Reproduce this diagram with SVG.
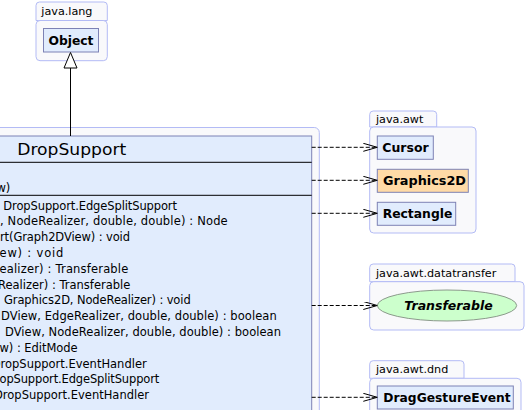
<svg xmlns="http://www.w3.org/2000/svg" width="527" height="410" viewBox="0 0 527 410">
<style>
.pkg{fill:#f9f9fb;stroke:#b3bbf5;stroke-width:1}
.cls{fill:#e1ecfd;stroke:#7d82b5;stroke-width:1}
.sep{stroke:#000;stroke-width:1}
.plbl{font-family:"DejaVu Sans",sans-serif;font-size:11.2px;fill:#000}
.bname{font-family:"DejaVu Sans",sans-serif;font-size:12.5px;font-weight:bold;fill:#000;text-anchor:middle}
.mem{font-family:"DejaVu Sans",sans-serif;font-size:11.5px;fill:#000;text-anchor:end}
.mems{font-family:"DejaVu Sans",sans-serif;font-size:11.5px;fill:#000;text-anchor:start}
.title{font-family:"DejaVu Sans",sans-serif;font-size:16.5px;fill:#000;text-anchor:middle}
.dep{fill:none;stroke:#000;stroke-width:1;stroke-dasharray:4,2}
</style>
<defs>
<marker id="open" markerUnits="userSpaceOnUse" markerWidth="16" markerHeight="10" refX="14" refY="4" orient="auto">
<path d="M0,0 L14,4 L0,8" fill="none" stroke="#000" stroke-width="1"/>
</marker>
</defs>

<g id="pkg-java-lang">
<path class="pkg" d="M36,20.5 V5.5 a3.5,3.5 0 0 1 3.5,-3.5 H103.8 a3.5,3.5 0 0 1 3.5,3.5 V20.5 Z"/>
<rect class="pkg" x="36" y="20.5" width="71.3" height="40.2" rx="4"/>
<text class="plbl" x="41.3" y="15">java.lang</text>
</g>
<g id="Object">
<rect class="cls" x="43.5" y="28.5" width="55" height="23.5"/>
<text class="bname" x="71" y="44.6" textLength="45" lengthAdjust="spacingAndGlyphs">Object</text>
</g>

<g id="pkg-main">
<rect class="pkg" x="-300" y="127.5" width="619.3" height="400" rx="5"/>
</g>
<g id="DropSupport">
<rect class="cls" x="-300" y="136" width="611.7" height="400"/>
<line class="sep" x1="-300" y1="162.3" x2="311.7" y2="162.3"/>
<line class="sep" x1="-300" y1="195.3" x2="311.7" y2="195.3"/>
<text class="title" x="71.7" y="154.5" textLength="109" lengthAdjust="spacingAndGlyphs">DropSupport</text>
<text class="mem" x="10.3" y="191.5">w)</text>
<text class="mems" x="3.3" y="209.5" textLength="173.7" lengthAdjust="spacing">DropSupport.EdgeSplitSupport</text>
<text class="mems" x="0" y="225.3" textLength="227.7" lengthAdjust="spacing">, NodeRealizer, double, double) : Node</text>
<text class="mems" x="0" y="241.1" textLength="130" lengthAdjust="spacing">rt(Graph2DView) : void</text>
<text class="mems" x="-0.5" y="256.9" textLength="63.8" lengthAdjust="spacing">ew) : void</text>
<text class="mems" x="-0.5" y="272.7" textLength="128.8" lengthAdjust="spacing">ealizer) : Transferable</text>
<text class="mem" x="130.3" y="288.5">Realizer) : Transferable</text>
<text class="mems" x="4" y="304.3" textLength="186.7" lengthAdjust="spacing">Graphics2D, NodeRealizer) : void</text>
<text class="mems" x="1" y="320.1" textLength="275.7" lengthAdjust="spacing">DView, EdgeRealizer, double, double) : boolean</text>
<text class="mems" x="5" y="335.9" textLength="276" lengthAdjust="spacing">DView, NodeRealizer, double, double) : boolean</text>
<text class="mems" x="-0.5" y="351.7" textLength="78.2" lengthAdjust="spacing">w) : EditMode</text>
<text class="mem" x="146.7" y="367.5">DropSupport.EventHandler</text>
<text class="mems" x="-0.5" y="383.3" textLength="159.8" lengthAdjust="spacing">opSupport.EdgeSplitSupport</text>
<text class="mem" x="149" y="399.1">DropSupport.EventHandler</text>
</g>

<g id="pkg-java-awt">
<path class="pkg" d="M369.7,127 V114.5 a3.5,3.5 0 0 1 3.5,-3.5 H433.2 a3.5,3.5 0 0 1 3.5,3.5 V127 Z"/>
<rect class="pkg" x="369.7" y="127" width="106.3" height="106" rx="4"/>
<text class="plbl" x="376" y="123.3">java.awt</text>
</g>
<g id="Cursor">
<rect class="cls" x="377.3" y="136" width="56" height="23.3"/>
<text class="bname" x="405.5" y="151.8" textLength="46.3" lengthAdjust="spacingAndGlyphs">Cursor</text>
</g>
<g id="Graphics2D">
<rect x="377.3" y="169.3" width="91" height="23" fill="#ffdaa6" stroke="#7d82b5" stroke-width="1"/>
<text class="bname" x="424.5" y="185" textLength="83" lengthAdjust="spacingAndGlyphs">Graphics2D</text>
</g>
<g id="Rectangle">
<rect class="cls" x="377.3" y="202.3" width="78.4" height="23"/>
<text class="bname" x="417.5" y="218.2" textLength="69.7" lengthAdjust="spacingAndGlyphs">Rectangle</text>
</g>

<g id="pkg-java-awt-datatransfer">
<path class="pkg" d="M369.7,281.7 V267.5 a3.5,3.5 0 0 1 3.5,-3.5 H511.5 a3.5,3.5 0 0 1 3.5,3.5 V281.7 Z"/>
<rect class="pkg" x="369.7" y="281.7" width="154.3" height="48.3" rx="4"/>
<text class="plbl" x="376" y="276.7">java.awt.datatransfer</text>
</g>
<g id="Transferable">
<ellipse cx="447" cy="305.5" rx="69.7" ry="15.5" fill="#ccffcc" stroke="#8c9a8c" stroke-width="1"/>
<text class="bname" x="448.5" y="310" font-style="italic" textLength="88.3" lengthAdjust="spacingAndGlyphs">Transferable</text>
</g>

<g id="pkg-java-awt-dnd">
<path class="pkg" d="M369.7,378.3 V364.2 a3.5,3.5 0 0 1 3.5,-3.5 H460.5 a3.5,3.5 0 0 1 3.5,3.5 V378.3 Z"/>
<rect class="pkg" x="369.7" y="378.3" width="151.3" height="80" rx="4"/>
<text class="plbl" x="376" y="372.7">java.awt.dnd</text>
</g>
<g id="DragGestureEvent">
<rect class="cls" x="377.3" y="386" width="136" height="23"/>
<text class="bname" x="447" y="401.7" textLength="127.3" lengthAdjust="spacingAndGlyphs">DragGestureEvent</text>
</g>

<g id="connectors">
<line x1="70.5" y1="136" x2="70.5" y2="68" stroke="#000" stroke-width="1"/>
<path d="M70.5,52.5 L64,68 L77,68 Z" fill="#fff" stroke="#000" stroke-width="1"/>
<line class="dep" x1="311.7" y1="147.3" x2="377.3" y2="147.3" marker-end="url(#open)"/>
<line class="dep" x1="311.7" y1="180.3" x2="377.3" y2="180.3" marker-end="url(#open)"/>
<line class="dep" x1="311.7" y1="213.3" x2="377.3" y2="213.3" marker-end="url(#open)"/>
<line class="dep" x1="311.7" y1="305.5" x2="377.3" y2="305.5" marker-end="url(#open)"/>
<line class="dep" x1="311.7" y1="397.3" x2="377.3" y2="397.3" marker-end="url(#open)"/>
</g>
</svg>
